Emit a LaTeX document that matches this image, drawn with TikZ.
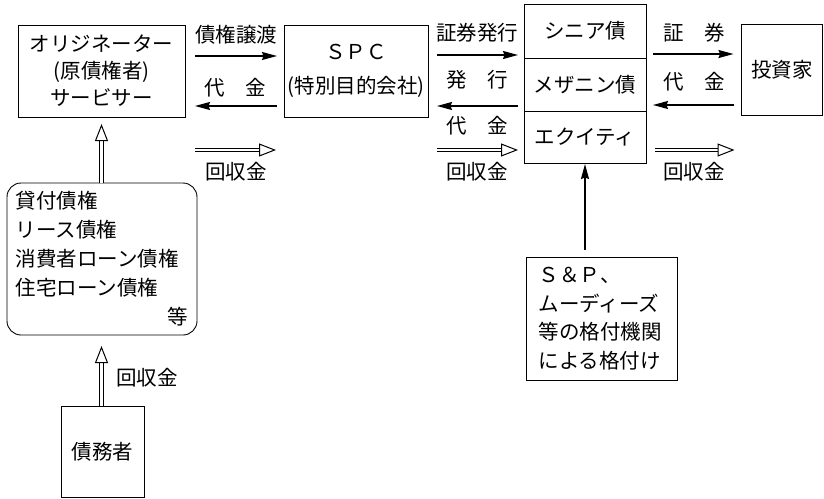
\documentclass[tikz,border=0pt]{standalone}
\usepackage{fontspec}
\setmainfont{Noto Sans CJK JP}
\usetikzlibrary{arrows.meta,calc}
\newcommand\jf{\fontsize{20.5}{27}\selectfont}
\newcommand\dblarrow[2]{%
  \draw[line width=4.6pt, shorten >=14pt] #1 -- #2;
  \draw[white, line width=2.6pt, shorten >=13pt] #1 -- #2;
  \draw[white, line width=0.2pt, -{Triangle[length=17pt,width=13pt,color=black,fill=white,line width=1pt]}] #1 -- #2;
}
\begin{document}
\begin{tikzpicture}[x=1pt,y=-1pt,
  box/.style={draw, line width=0.9pt, inner sep=0pt, outer sep=0pt, font=\jf, align=center},
  lbl/.style={font=\jf, inner sep=0pt},
  arr/.style={line width=1.4pt, -{Stealth[length=15pt,width=8pt,inset=1.5pt]}},
]
\useasboundingbox (0,0) rectangle (824,498);

% boxes
\node[box, minimum width=167pt, minimum height=92pt] (orig) at (101.5,71) {オリジネーター\\(原債権者)\\サービサー};
\node[box, minimum width=144pt, minimum height=92pt] (spc) at (356,71) {ＳＰＣ\\[7pt](特別目的会社)};
\node[box, minimum width=122pt, minimum height=54pt] (sen) at (585,31) {シニア債};
\node[box, minimum width=122pt, minimum height=53pt, anchor=north] (mez) at (sen.south) {メザニン債};
\node[box, minimum width=122pt, minimum height=52pt, anchor=north] (eq) at (mez.south) {エクイティ};
\node[box, minimum width=81pt, minimum height=91pt] (inv) at (782,69.5) {投資家};
\node[box, rounded corners=14pt, minimum width=190pt, minimum height=152pt, text width=172pt, align=left, font=\fontsize{20.5}{29}\selectfont] (recv) at (102,259) {貸付債権\\リース債権\\消費者ローン債権\\住宅ローン債権\\\hspace*{\fill}等};
\node[box, minimum width=83pt, minimum height=91pt] (debt) at (102.5,451.5) {債務者};
\node[box, minimum width=151pt, minimum height=123pt, text width=126pt, align=left, font=\fontsize{20.5}{28.5}\selectfont] (rate) at (601.5,318.5) {Ｓ＆Ｐ、\\ムーディーズ\\等の格付機関\\による格付け};

% left pair
\draw[arr, shorten <=10pt, shorten >=7pt] (orig.east |- 0,56) -- (spc.west |- 0,56);
\draw[arr, shorten <=7pt, shorten >=10pt] (spc.west |- 0,106) -- (orig.east |- 0,106);
\dblarrow{($(orig.east |- 0,150)+(10,0)$)}{($(spc.west |- 0,150)+(-8,0)$)}
\node[lbl] (l1) at (236,35) {債権譲渡};
\node[lbl] (l2) at (235,88) {代　金};
\node[lbl] (l3) at (236,172) {回収金};

% middle pair
\draw[arr, shorten <=9pt, shorten >=6pt] (spc.east |- 0,55) -- (sen.west |- 0,55);
\draw[arr, shorten <=6pt, shorten >=9pt] (mez.west |- 0,106) -- (spc.east |- 0,106);
\dblarrow{($(spc.east |- 0,150)+(9,0)$)}{($(eq.west |- 0,150)+(-6,0)$)}
\node[lbl] (m1) at (477,33) {証券発行};
\node[lbl] (m2) at (477,80) {発　行};
\node[lbl] (m3) at (477,126) {代　金};
\node[lbl] (m4) at (477,172) {回収金};

% right pair
\draw[arr, shorten <=7pt, shorten >=8pt] (sen.east |- 0,54) -- (inv.west |- 0,54);
\draw[arr, shorten <=8pt, shorten >=7pt] (inv.west |- 0,105) -- (mez.east |- 0,105);
\dblarrow{($(eq.east |- 0,150)+(9,0)$)}{($(inv.west |- 0,150)+(-7,0)$)}
\node[lbl] (r1) at (694,33) {証　券};
\node[lbl] (r2) at (694,82) {代　金};
\node[lbl] (r3) at (694,172) {回収金};

% vertical
\dblarrow{(recv.north -| orig.south)}{($(orig.south)+(0,7)$)}
\dblarrow{(debt.north -| orig.south)}{($(recv.south -| orig.south)+(0,11)$)}
\node[lbl] (d1) at (147,378) {回収金};
\draw[arr, shorten <=7pt, shorten >=1pt] (rate.north -| eq.south) -- (eq.south);
\end{tikzpicture}
\end{document}
